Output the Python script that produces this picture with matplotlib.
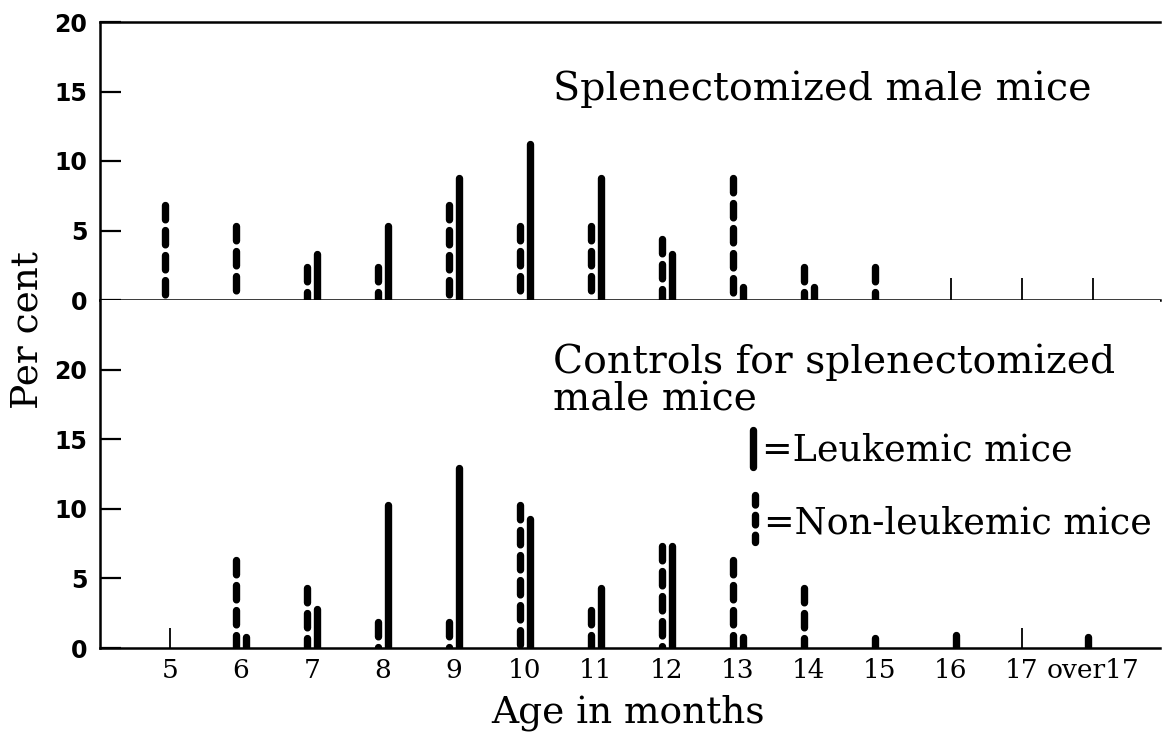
import matplotlib
matplotlib.use("Agg")
import matplotlib.pyplot as plt
from matplotlib.lines import Line2D

# ---- data (percent) ----
categories = ["5", "6", "7", "8", "9", "10", "11", "12", "13", "14", "15", "16", "17", "over17"]
splen_nonleuk = [6.8, 5.3, 2.4, 2.4, 6.8, 5.3, 5.3, 4.4, 8.8, 2.4, 2.4, 0, 0, 0]
splen_leuk    = [0, 0, 3.3, 5.3, 8.8, 11.2, 8.8, 3.3, 0.9, 0.9, 0, 0, 0, 0]
ctrl_nonleuk  = [0, 6.3, 4.3, 1.9, 1.9, 10.3, 2.7, 7.3, 6.3, 4.3, 0.7, 0, 0, 0.8]
ctrl_leuk     = [0, 0.8, 2.8, 10.3, 12.9, 9.3, 4.3, 7.3, 0.8, 0, 0, 0.9, 0, 0]
yticks = [0, 5, 10, 15, 20]

W_PX, H_PX = 1164, 738
fig = plt.figure(figsize=(W_PX / 100, H_PX / 100), dpi=100)

TXT = "DejaVu Serif"
L = 100 / W_PX
W = (1160 - 100) / W_PX
b1 = 1 - 300 / H_PX
t1 = 1 - 22 / H_PX
b2 = 1 - 648 / H_PX
ax1 = fig.add_axes([L, b1, W, t1 - b1])
ax2 = fig.add_axes([L, b2, W, b1 - b2])

xs = list(range(len(categories)))
off = 0.07
LW = 5.3
dash = (0, (1.95, 1.45))

def draw(ax, nonleuk, leuk):
    for i, (d, s) in enumerate(zip(nonleuk, leuk)):
        if d > 0:
            # drawn from the top down so the top dash ends at the value
            ax.plot([xs[i] - off, xs[i] - off], [d, 0], color="black", lw=LW,
                     linestyle=dash, dash_capstyle="round", solid_capstyle="round")
        if s > 0:
            ax.plot([xs[i] + off, xs[i] + off], [0, s], color="black", lw=LW,
                    solid_capstyle="round")

draw(ax1, splen_nonleuk, splen_leuk)
draw(ax2, ctrl_nonleuk, ctrl_leuk)

for ax, ytop, nl, lk, tl in ((ax1, 20, splen_nonleuk, splen_leuk, 16),
                             (ax2, 25, ctrl_nonleuk, ctrl_leuk, 14.5)):
    ax.set_xlim(-0.986, 13.944)
    ax.set_ylim(0, ytop)
    ax.set_yticks(yticks)
    empty = [x for x, d, s in zip(xs, nl, lk) if d == 0 and s == 0]
    ax.xaxis.remove_overlapping_locs = False
    ax.set_xticks(xs)
    ax.set_xticks(empty, minor=True)
    ax.spines["right"].set_visible(False)
    for sp in ax.spines.values():
        sp.set_linewidth(1.8)
    ax.tick_params(axis="y", direction="in", length=15, width=1.6, pad=9,
                   labelsize=17)
    ax.tick_params(axis="x", which="major", length=0, top=False)
    ax.tick_params(axis="x", which="minor", direction="in", length=tl,
                   width=1.3, top=False)
    for lab in ax.get_yticklabels():
        lab.set_fontfamily("DejaVu Sans")
        lab.set_fontweight("bold")

ax1.set_xticklabels([])
ax2.spines["top"].set_visible(False)
ax2.set_xticklabels(categories, fontsize=19, fontfamily=TXT)
ax2.tick_params(axis="x", which="major", pad=7)

# panel titles
ax1.text(0.427, 0.719, "Splenectomized male mice", transform=ax1.transAxes,
         fontsize=28.5, fontfamily=TXT, ha="left", va="baseline")
ax2.text(0.427, 0.790, "Controls for splenectomized", transform=ax2.transAxes,
         fontsize=28.3, fontfamily=TXT, ha="left", va="baseline")
ax2.text(0.427, 0.682, "male mice", transform=ax2.transAxes,
         fontsize=28.3, fontfamily=TXT, ha="left", va="baseline")

# key
ax2.add_line(Line2D([0.616, 0.616], [0.520, 0.626], transform=ax2.transAxes,
                    color="black", lw=LW, solid_capstyle="round", clip_on=False))
ax2.add_line(Line2D([0.618, 0.618], [0.440, 0.305], transform=ax2.transAxes,
                    color="black", lw=LW, linestyle=(0, (1.3, 1.4)),
                    dash_capstyle="round", clip_on=False))
ax2.text(0.6245, 0.540, "=Leukemic mice", transform=ax2.transAxes,
         fontsize=26.3, fontfamily=TXT, ha="left", va="baseline")
ax2.text(0.626, 0.330, "=Non-leukemic mice", transform=ax2.transAxes,
         fontsize=26.3, fontfamily=TXT, ha="left", va="baseline")

fig.text(28 / W_PX, 1 - 330 / H_PX, "Per cent", rotation=90, fontsize=27,
         fontfamily=TXT, ha="center", va="center")
fig.text(628 / W_PX, 1 - 713 / H_PX, "Age in months", fontsize=27,
         fontfamily=TXT, ha="center", va="center")

fig.savefig("out.png", dpi=100, facecolor="white")
